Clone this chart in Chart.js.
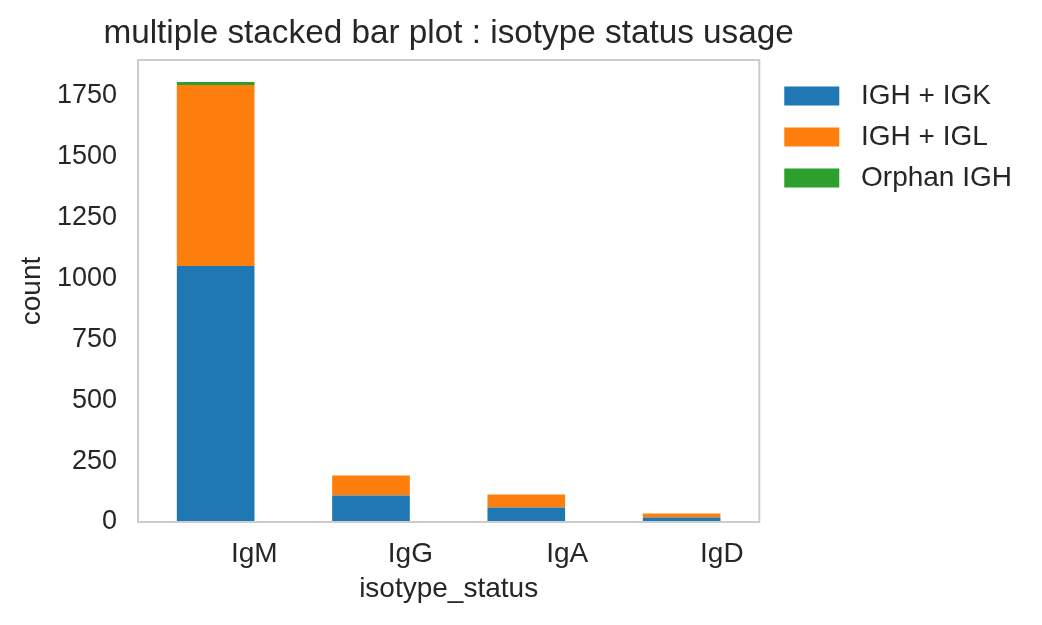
<!DOCTYPE html>
<html>
<head>
<meta charset="utf-8">
<script src="https://cdn.jsdelivr.net/npm/chart.js@4/dist/chart.umd.min.js"></script>
<style>
  html, body { margin: 0; padding: 0; background: #ffffff; }
  #wrap { width: 1042px; height: 625px; }
</style>
</head>
<body>
<div id="wrap"><canvas id="isotypeChart" width="1042" height="625"></canvas></div>
<script>
// isotype status usage - stacked counts per light chain status
const categories = ['IgM', 'IgG', 'IgA', 'IgD'];
const seriesNames = ['IGH + IGK', 'IGH + IGL', 'Orphan IGH'];
const igkCounts = [1052, 109, 60, 18];
const iglCounts = [743, 82, 53, 17];
const orphanCounts = [13, 0, 0, 0];
const yTickStep = 250;
const yMax = 1898;
const chartTitle = 'multiple stacked bar plot : isotype status usage';

const colors = ['#1f77b4', '#ff7f0e', '#2ca02c'];
const textColor = '#262626';
const fontFamily = '"Liberation Sans", Arial, sans-serif';

// light grey box around the plot area
const frameBox = {
    id: 'frameBox',
    afterDatasetsDraw(chart) {
        const a = chart.chartArea;
        const ctx = chart.ctx;
        ctx.save();
        ctx.strokeStyle = '#cccccc';
        ctx.lineWidth = 2;
        ctx.strokeRect(a.left, a.top, a.right - a.left, a.bottom - a.top);
        ctx.restore();
    }
};

// title centred over the plot box (wider than the box, so no squeezing)
const axesTitle = {
    id: 'axesTitle',
    afterDraw(chart) {
        const a = chart.chartArea;
        const ctx = chart.ctx;
        ctx.save();
        ctx.fillStyle = textColor;
        ctx.font = '33.3px ' + fontFamily;
        ctx.textAlign = 'center';
        ctx.textBaseline = 'alphabetic';
        ctx.fillText(chartTitle, (a.left + a.right) / 2, a.top - 17);
        ctx.restore();
    }
};

const ctx = document.getElementById('isotypeChart');
new Chart(ctx, {
    type: 'bar',
    data: {
        labels: categories,
        datasets: [
            { label: seriesNames[0], data: igkCounts, backgroundColor: colors[0], borderWidth: 0 },
            { label: seriesNames[1], data: iglCounts, backgroundColor: colors[1], borderWidth: 0 },
            { label: seriesNames[2], data: orphanCounts, backgroundColor: colors[2], borderWidth: 0 }
        ]
    },
    options: {
        responsive: false,
        animation: false,
        layout: { padding: { left: 10, right: 20, top: 60, bottom: 10 } },
        datasets: {
            bar: { barPercentage: 0.5, categoryPercentage: 1.0 }
        },
        plugins: {
            tooltip: { enabled: false },
            title: { display: false },
            legend: {
                position: 'right',
                align: 'start',
                fullSize: false,
                maxWidth: 300,
                title: { display: true, text: '', font: { size: 5 }, padding: { top: 0, bottom: 3 } },
                labels: {
                    boxWidth: 55,
                    boxHeight: 19,
                    padding: 13,
                    color: textColor,
                    font: { family: fontFamily, size: 28 },
                    generateLabels: chart => Chart.defaults.plugins.legend.labels.generateLabels(chart)
                        .map(item => ({ ...item, text: ' ' + item.text }))
                }
            }
        },
        scales: {
            x: {
                stacked: true,
                grid: { display: false, drawTicks: false },
                border: { display: false },
                afterFit: scale => { scale.height = 93; },
                ticks: {
                    color: textColor,
                    font: { family: fontFamily, size: 28 },
                    align: 'end',
                    labelOffset: 62,
                    padding: 15,
                    maxRotation: 0
                },
                title: {
                    display: true,
                    text: 'isotype_status',
                    color: textColor,
                    font: { family: fontFamily, size: 28 },
                    padding: { top: 1, bottom: 9 }
                }
            },
            y: {
                stacked: true,
                min: 0,
                max: yMax,
                grid: { display: false, drawTicks: false },
                border: { display: false },
                afterFit: scale => { scale.width = 128; },
                ticks: {
                    stepSize: yTickStep,
                    includeBounds: false,
                    callback: value => String(value),
                    color: textColor,
                    font: { family: fontFamily, size: 27 },
                    padding: 21
                },
                title: {
                    display: true,
                    text: 'count',
                    color: textColor,
                    font: { family: fontFamily, size: 28 },
                    padding: { top: 5, bottom: 8 }
                }
            },
            // empty spacer between plot box and legend
            gap: {
                position: 'right',
                display: true,
                grid: { display: false },
                border: { display: false },
                ticks: { display: false },
                afterFit: scale => { scale.width = 12; }
            }
        }
    },
    plugins: [frameBox, axesTitle]
});
</script>
</body>
</html>
